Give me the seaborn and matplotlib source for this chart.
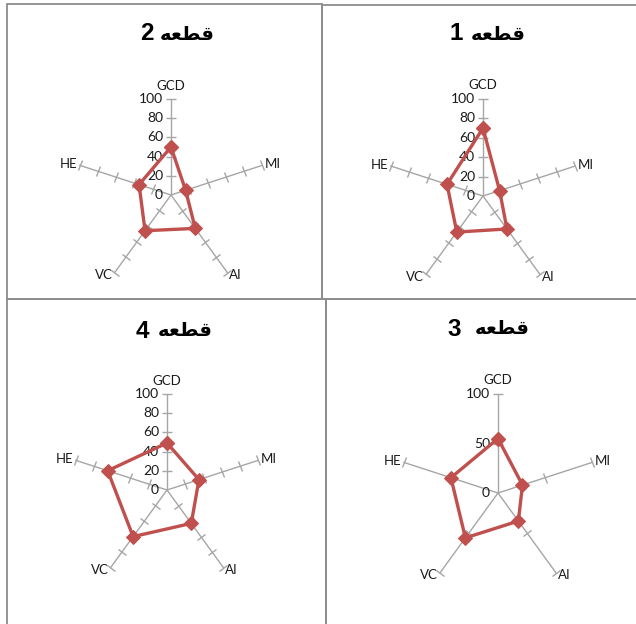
import numpy as np
import pandas as pd
import matplotlib
matplotlib.use("Agg")
import matplotlib.pyplot as plt
from matplotlib.markers import MarkerStyle
from matplotlib.transforms import Affine2D, offset_copy
import seaborn as sns

# categories on the five spokes (clockwise from top)
categories = ["GCD", "MI", "AI", "VC", "HE"]

plot1 = [70, 18, 42, 46, 39]
plot2 = [50, 16, 43, 46, 35]
plot3 = [55, 26, 35, 56, 50]
plot4 = [49, 35, 43, 60, 65]

# title word "قطعه", written in shaped presentation forms in visual order
# (matplotlib does no Arabic shaping / bidi on its own)
title_word = "\uFEEA\uFECC\uFEC4\uFED7"
title_nums = ["1", "2", "3", "4"]

ticks_fine = [0, 20, 40, 60, 80, 100]
ticks_coarse = [0, 50, 100]

sns.set_theme(style="white")
plt.rcParams["font.family"] = ["Lato", "DejaVu Sans"]

W, H = 636, 624
fig = plt.figure(figsize=(W / 100, H / 100), dpi=100)
fig.patch.set_facecolor("white")

RED = "#C0504D"
SPOKE = "#A6A6A6"
TXT = "#1a1a1a"


def px_rect(x0, y0, x1, y1):
    return [x0 / W, 1 - y1 / H, (x1 - x0) / W, (y1 - y0) / H]


# panel frames
for (x0, y0, x1, y1) in [(7, 4, 322, 299), (322, 5, 640, 299),
                         (7, 299, 326, 630), (326, 299, 640, 630)]:
    r = px_rect(x0, y0, x1, y1)
    fig.add_artist(plt.Rectangle((r[0], r[1]), r[2], r[3], transform=fig.transFigure,
                                 fill=False, edgecolor="#8c8c8c", linewidth=1.3))

angles = np.arange(len(categories)) * 2 * np.pi / len(categories)


def radar(cx, cy, R, values, num, ticks, word_x, num_x, ty):
    ax = fig.add_axes([(cx - R) / W, 1 - (cy + R) / H, 2 * R / W, 2 * R / H], polar=True)
    ax.set_theta_offset(np.pi / 2)
    ax.set_theta_direction(-1)
    ax.set_ylim(0, 100)
    ax.grid(False)
    ax.spines["polar"].set_visible(False)
    ax.patch.set_alpha(0)

    # spokes with cross tick marks
    for a in angles:
        ax.plot([a, a], [0, 100], color=SPOKE, lw=1.0, clip_on=False, zorder=1)
        mk = MarkerStyle("|", transform=Affine2D().rotate_deg(90 - np.degrees(a)))
        ax.plot([a] * (len(ticks) - 1), ticks[1:], linestyle="none", marker=mk,
                markersize=7, markeredgecolor=SPOKE, markeredgewidth=1.0,
                clip_on=False, zorder=1)

    # tick labels left of the GCD spoke
    off = offset_copy(ax.transData, fig=fig, x=-8, y=0, units="dots")
    for t in ticks:
        ax.text(0, t, str(t), transform=off, ha="right", va="center",
                fontsize=10, color=TXT)

    # category labels
    for a, c in zip(angles, categories):
        deg = 90 - np.degrees(a)
        if c == "GCD":
            ax.text(a, 114, c, ha="center", va="center", fontsize=9.5, color=TXT)
        else:
            ha = "left" if np.cos(np.radians(deg)) > 0 else "right"
            ax.text(a, 103, c, ha=ha, va="center", fontsize=9.5, color=TXT)

    df = pd.DataFrame({"theta": list(angles) + [angles[0]],
                       "value": list(values) + [values[0]]})
    sns.lineplot(data=df, x="theta", y="value", ax=ax, sort=False, estimator=None,
                 color=RED, linewidth=2.4, marker="D", markersize=7,
                 markeredgecolor=RED, zorder=3)
    ax.set_xlabel("")
    ax.set_ylabel("")
    ax.set_xticks([])
    ax.set_yticks([])
    ax.set_ylim(0, 100)

    # title: number on the left, Arabic word on the right
    fig.text(word_x / W, 1 - ty / H, title_word, ha="left", va="center", fontsize=14,
             fontweight="bold", color="black", family=["DejaVu Sans"])
    fig.text(num_x / W, 1 - ty / H, num, ha="right", va="center", fontsize=17.5,
             fontweight="bold", color="black", family=["Liberation Sans", "DejaVu Sans"])


radar(171, 195, 96, plot2, title_nums[1], ticks_fine, 160, 154, 34)
radar(483, 196, 97, plot1, title_nums[0], ticks_fine, 471, 463, 34)
radar(167, 490, 96, plot4, title_nums[3], ticks_fine, 158, 149, 331)
radar(498, 493, 99, plot3, title_nums[2], ticks_coarse, 475, 461, 329)

fig.savefig("out.png", dpi=100, facecolor="white")
